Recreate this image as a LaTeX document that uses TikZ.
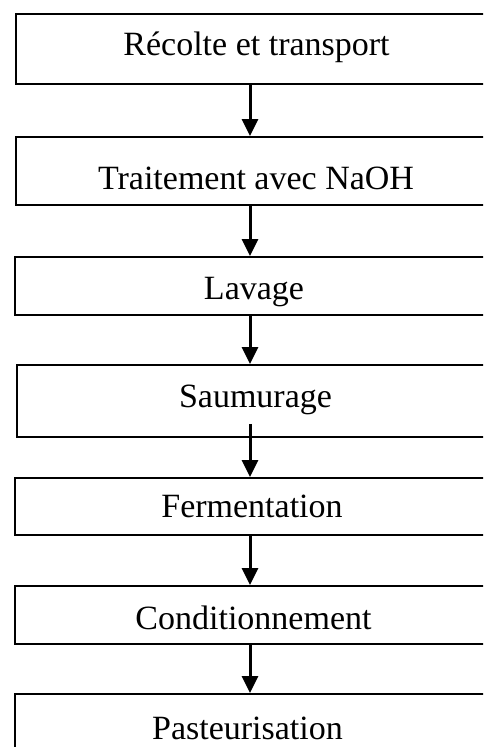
\documentclass[tikz,border=0pt]{standalone}
\usepackage{fontspec}
\setmainfont{Liberation Serif}
\usetikzlibrary{arrows.meta,calc}
\begin{document}
\begin{tikzpicture}[x=1pt,y=-1pt,
  stepbox/.style={draw=black,line width=1.8pt,rectangle,inner sep=0pt,anchor=north west,minimum width=482pt},
  steptext/.style={anchor=base,inner sep=0pt,font=\fontsize{34}{40}\selectfont},
  flow/.style={line width=3pt,-{Triangle[length=17pt,width=16pt]}}]
\useasboundingbox (0,0) rectangle (483,747);
\clip (0,0) rectangle (483,747);
\fill[white] (0,0) rectangle (483,747);
\coordinate (ax) at (250,0);
\node[stepbox,minimum height=70pt] (b1) at (15,13) {};
\node[stepbox,minimum height=68pt] (b2) at (15,136) {};
\node[stepbox,minimum height=58pt] (b3) at (14,256) {};
\node[stepbox,minimum height=72pt] (b4) at (16,364) {};
\node[stepbox,minimum height=57pt] (b5) at (14,477) {};
\node[stepbox,minimum height=58pt] (b6) at (14,585) {};
\node[stepbox,minimum height=70pt] (b7) at (14,693) {};
\node[steptext] (t1) at (256.5,55) {Récolte et transport};
\node[steptext] (t2) at (256,189) {Traitement avec NaOH};
\node[steptext] (t3) at (254,299) {Lavage};
\node[steptext] (t4) at (255.5,407) {Saumurage};
\node[steptext] (t5) at (252,517) {Fermentation};
\node[steptext] (t6) at (253.5,629) {Conditionnement};
\node[steptext] (t7) at (247.5,739) {Pasteurisation};
\draw[flow] (b1.south -| ax) -- (b2.north -| ax);
\draw[flow] (b2.south -| ax) -- (b3.north -| ax);
\draw[flow] (b3.south -| ax) -- (b4.north -| ax);
\draw[flow] ($(b4.south -| ax)+(0,-14)$) -- (b5.north -| ax);
\draw[flow] (b5.south -| ax) -- (b6.north -| ax);
\draw[flow] (b6.south -| ax) -- (b7.north -| ax);
\end{tikzpicture}
\end{document}
